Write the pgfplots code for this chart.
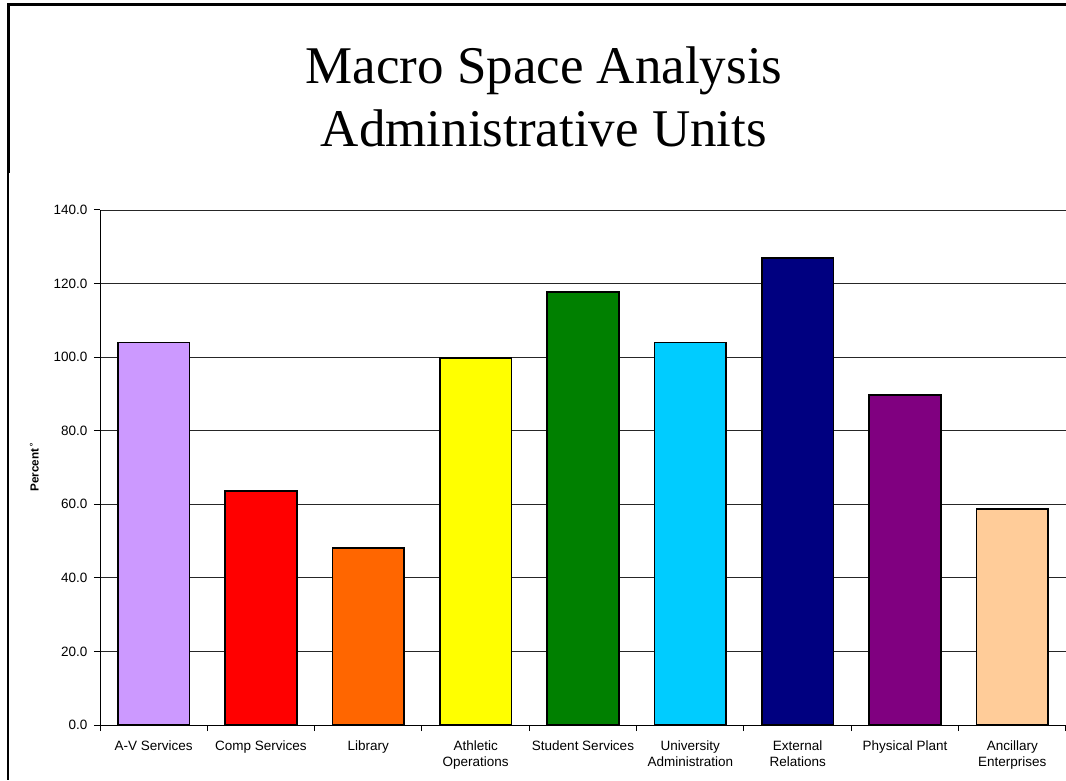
\documentclass[border=0pt]{standalone}
\usepackage{fontspec}
\setmainfont{Liberation Serif}
\newfontfamily\arial{Liberation Sans}
\usepackage{pgfplots}
\pgfplotsset{compat=1.18}
\definecolor{cAV}{HTML}{CC99FF}
\definecolor{cComp}{HTML}{FF0000}
\definecolor{cLib}{HTML}{FF6600}
\definecolor{cAth}{HTML}{FFFF00}
\definecolor{cStu}{HTML}{008000}
\definecolor{cUni}{HTML}{00CCFF}
\definecolor{cExt}{HTML}{000080}
\definecolor{cPhy}{HTML}{800080}
\definecolor{cAnc}{HTML}{FFCC99}
\begin{document}
\begin{tikzpicture}[x=1pt,y=1pt]
\useasboundingbox[fill=white] (0,0) rectangle (1066,780);
% frame
\draw[line width=3pt] (8,607) -- (8,775) -- (1066,775);
\draw[line width=2pt] (8,607) -- (8,0);
% title
\node[anchor=base, font=\fontsize{53}{63}\selectfont] at (544,696) {Macro Space Analysis};
\node[anchor=base, font=\fontsize{53}{63}\selectfont] at (544,633) {Administrative Units};
\begin{axis}[
  at={(100pt,55pt)}, anchor=south west,
  scale only axis, width=966pt, height=515pt,
  ymin=0, ymax=140, ytick={0,20,...,140},
  xmin=-0.5, xmax=8.5,
  xtick={0,...,8},
  xticklabels={A-V Services, Comp Services, Library, {Athletic\\Operations}, Student Services, {University\\Administration}, {External\\Relations}, Physical Plant, {Ancillary\\Enterprises}},
  minor xtick={-0.5,0.5,...,8.5},
  major x tick style={draw=none},
  minor x tick style={black, line width=1pt},
  minor tick length=6pt,
  major tick length=6pt,
  tick align=outside,
  axis x line*=bottom, axis y line*=left,
  axis line style={black, line width=1pt, -},
  ytick style={black, line width=1pt},
  ymajorgrids, major grid style={black!85, line width=0.9pt},
  /pgf/number format/assume math mode=true,
  /pgf/number format/.cd, fixed, fixed zerofill, precision=1, /pgfplots/.cd,
  yticklabel style={font=\arial\fontsize{13.5}{16}\selectfont, xshift=-3pt},
  xticklabel style={font=\arial\fontsize{13.5}{16}\selectfont, align=center, text depth=0pt, yshift=-6pt},
  ylabel={\textbf{Percent}\,\raisebox{1ex}{\tiny o}},
  ylabel style={font=\arial\bfseries\fontsize{11.7}{14}\selectfont, at={(axis description cs:-0.068,0.5)}, anchor=center},
  ybar, bar width=0.67, bar shift=0pt,
  every axis plot/.append style={draw=black, line width=1.6pt},
  clip=false,
]
\addplot[fill=cAV] coordinates {(0,104.0)};
\addplot[fill=cComp] coordinates {(1,63.6)};
\addplot[fill=cLib] coordinates {(2,48.1)};
\addplot[fill=cAth] coordinates {(3,99.8)};
\addplot[fill=cStu] coordinates {(4,117.7)};
\addplot[fill=cUni] coordinates {(5,104.0)};
\addplot[fill=cExt] coordinates {(6,126.9)};
\addplot[fill=cPhy] coordinates {(7,89.7)};
\addplot[fill=cAnc] coordinates {(8,58.7)};
\end{axis}
\end{tikzpicture}
\end{document}
